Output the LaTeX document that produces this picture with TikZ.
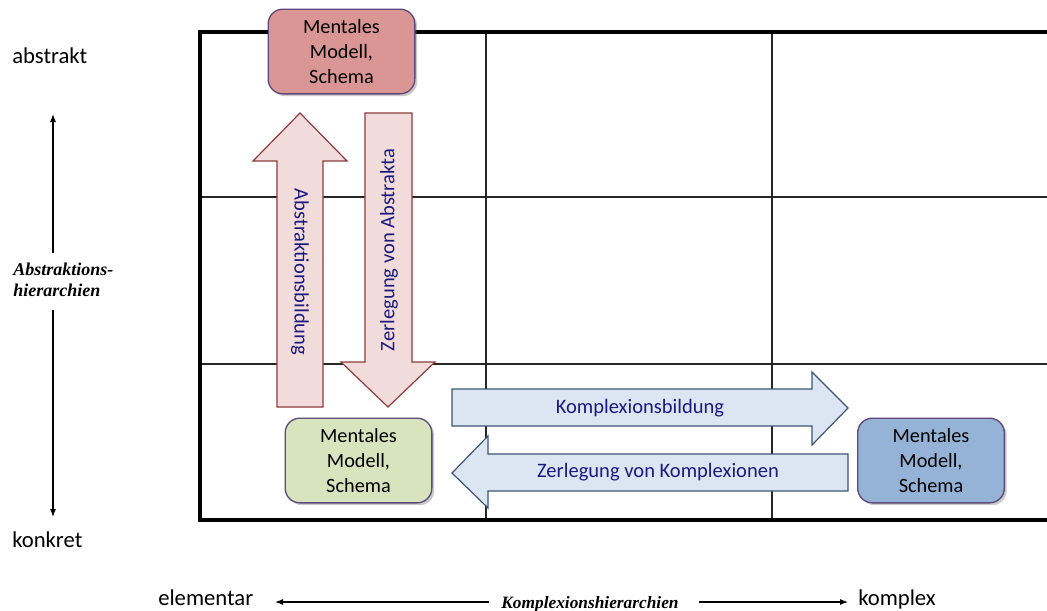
\documentclass[tikz,border=0pt]{standalone}
\usepackage{fontspec}
\setmainfont{Carlito}
\newfontfamily\timesfont{Liberation Serif}
\usetikzlibrary{arrows.meta,shadows}
\definecolor{boxline}{HTML}{5F497A}
\definecolor{redfill}{HTML}{D99694}
\definecolor{greenfill}{HTML}{D7E4BD}
\definecolor{bluefill}{HTML}{95B3D7}
\definecolor{redarrfill}{HTML}{F2DCDB}
\definecolor{redarrline}{HTML}{8C3B3A}
\definecolor{bluearrfill}{HTML}{DCE6F2}
\definecolor{bluearrline}{HTML}{3B5573}
\definecolor{arrtext}{HTML}{1A1A80}
\tikzset{
  thickgrid/.style={line width=2.3pt,black},
  thingrid/.style={line width=0.9pt,black!85},
  mbox/.style={draw=boxline,line width=1pt,rounded corners=11pt,
    minimum width=110pt,minimum height=63.5pt,align=center,inner sep=0pt,
    font=\fontsize{15.2}{18.75}\selectfont,
    drop shadow={shadow xshift=1.8pt,shadow yshift=-1.8pt,opacity=0.35,fill=black!60}},
  redarrow/.style={draw=redarrline,fill=redarrfill,line width=0.9pt},
  bluearrow/.style={draw=bluearrline,fill=bluearrfill,line width=0.9pt},
  arrlabel/.style={text=arrtext,font=\fontsize{15.4}{18}\selectfont,inner sep=0pt},
  axlabel/.style={font=\fontsize{17}{20}\selectfont,inner sep=0pt},
  hierlabel/.style={font=\timesfont\bfseries\itshape\fontsize{13.5}{15.75}\selectfont,inner sep=0pt},
  khierlabel/.style={font=\timesfont\bfseries\itshape\fontsize{13}{15.75}\selectfont,inner sep=0pt},
  axarrow/.style={line width=0.8pt,-{Latex[length=6pt,width=4.5pt]}}
}
\begin{document}
\begin{tikzpicture}[x=0.75pt,y=-0.75pt]
\useasboundingbox (0,0) rectangle (1047,611);
% grid
\draw[thingrid] (486,32) -- (486,520) (772,32) -- (772,520)
  (200,197) -- (1047,197) (200,364) -- (1047,364);
\draw[thickgrid] (1047,32) -- (200,32) -- (200,520) -- (1047,520);
% vertical arrows
\draw[redarrow] (277,407) -- (277,161) -- (253,161) -- (300,113) -- (347,161) -- (323,161) -- (323,407) -- cycle;
\draw[redarrow] (365,113) -- (412,113) -- (412,362) -- (435,362) -- (388,407) -- (341,362) -- (365,362) -- cycle;
\node[arrlabel,rotate=-90] (abst) at (300,272) {Abstraktionsbildung};
\node[arrlabel,rotate=90] (zerabst) at (389,250) {Zerlegung von Abstrakta};
% horizontal arrows
\draw[bluearrow] (452,389) -- (812,389) -- (812,372) -- (848,408) -- (812,445) -- (812,426) -- (452,426) -- cycle;
\draw[bluearrow] (848,454) -- (848,491) -- (488,491) -- (488,508) -- (452,473) -- (488,436) -- (488,454) -- cycle;
\node[arrlabel] (kompl) at (640,408) {Komplexionsbildung};
\node[arrlabel] (zerkompl) at (658,472) {Zerlegung von Komplexionen};
% boxes
\node[mbox,fill=redfill] (red) at (341.5,51.5) {Mentales\\Modell,\\Schema};
\node[mbox,fill=greenfill] (green) at (358.5,460.5) {Mentales\\Modell,\\Schema};
\node[mbox,fill=bluefill] (blue) at (931,460.5) {Mentales\\Modell,\\Schema};
% left axis
\node[axlabel,anchor=base west] (abstrakt) at (12,63) {abstrakt};
\node[axlabel,anchor=base west] (konkret) at (12,547) {konkret};
\node[hierlabel,anchor=north west,align=left] (ahier) at (13,263) {Abstraktions-\\hierarchien};
\coordinate (vup) at (53,114);
\coordinate (vdown) at (53,517);
\coordinate (vs1) at (53,253);
\coordinate (vs2) at (53,310);
\draw[axarrow] (vs1) -- (vup);
\draw[axarrow] (vs2) -- (vdown);
% bottom axis
\node[axlabel,anchor=base west] (elem) at (158,605) {elementar};
\node[axlabel,anchor=base west] (komplex) at (858,605) {komplex};
\node[khierlabel,anchor=base] (khier) at (590,608) {Komplexionshierarchien};
\coordinate (hl) at (275,602);
\coordinate (hr) at (848,602);
\draw[axarrow] (khier.west |- hl) ++(-12,0) -- (hl);
\draw[axarrow] (khier.east |- hr) ++(20,0) -- (hr);
\end{tikzpicture}
\end{document}
